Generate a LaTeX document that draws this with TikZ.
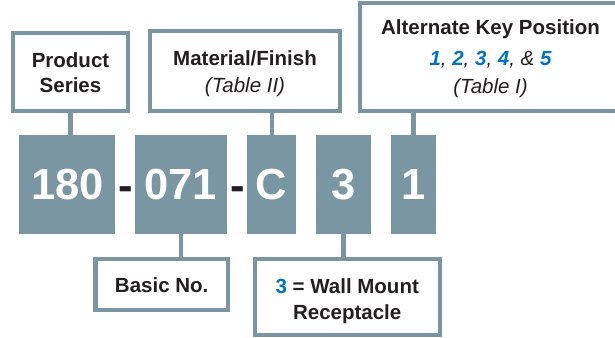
\documentclass[tikz,border=0pt]{standalone}
\usepackage{fontspec}
\setmainfont{Liberation Sans}
\definecolor{gb}{RGB}{122,150,163}
\definecolor{ink}{RGB}{35,31,32}
\definecolor{bluey}{RGB}{0,116,190}
\begin{document}
\begin{tikzpicture}[x=1pt,y=-1pt,
  lblbox/.style={draw=gb,line width=4.3pt,fill=white,rectangle,inner sep=0pt},
  codebox/.style={fill=gb,rectangle,inner sep=0pt,minimum height=99pt,text=white,
    font=\fontsize{43.5}{43.5}\selectfont\bfseries},
  hyph/.style={anchor=base,inner sep=0pt,text=ink,font=\fontsize{43.5}{43.5}\selectfont\bfseries},
  lbl/.style={anchor=base,inner sep=0pt,text=ink,font=\fontsize{20.5}{24}\selectfont\bfseries},
  lbli/.style={anchor=base,inner sep=0pt,text=ink,font=\fontsize{20.5}{24}\selectfont\itshape},
  conn/.style={draw=gb,line width=4.3pt}]
\useasboundingbox (0,0) rectangle (615,337);
% label boxes
\node[lblbox,minimum width=115pt,minimum height=78pt] (prod) at (70.5,72) {};
\node[lblbox,minimum width=190pt,minimum height=80pt] (mat) at (245,71) {};
\node[lblbox,minimum width=262pt,minimum height=108pt] (alt) at (491,57) {};
\node[lblbox,minimum width=132.7pt,minimum height=50.4pt] (basic) at (161.7,284.5) {};
\node[lblbox,minimum width=185pt,minimum height=76pt] (wall) at (347.2,296.7) {};
% code boxes
\node[codebox,minimum width=96pt] (c180) at (67.3,184.5) {180};
\node[codebox,minimum width=91.7pt] (c071) at (180.85,184.5) {071};
\node[codebox,minimum width=48.7pt] (cC) at (271.65,184.5) {C};
\node[codebox,minimum width=55.3pt] (c3) at (343.35,184.5) {3};
\node[codebox,minimum width=45pt] (c1) at (413.5,184.5) {1};
\node[hyph] (h1) at (126,200.7) {-};
\node[hyph] (h2) at (238,200.7) {-};
% connectors
\draw[conn] (prod.south) -- (prod.south |- c180.north);
\draw[conn] (cC.north) -- (cC.north |- mat.south);
\draw[conn] (c1.north) -- (c1.north |- alt.south);
\draw[conn] (c071.south) -- (c071.south |- basic.north);
\draw[conn] (c3.south) -- (c3.south |- wall.north);
% texts
\node[lbl] (t1) at (70.5,67) {Product};
\node[lbl] (t2) at (70.5,92) {Series};
\node[lbl] (t3) at (245,65) {Material/Finish};
\node[lbli] (t4) at (245,92) {(Table II)};
\node[lbl] (t5) at (490.5,35) {Alternate Key Position};
\node[lbli] (t6) at (490.5,65) {{\bfseries\color{bluey}1}, {\bfseries\color{bluey}2}, {\bfseries\color{bluey}3}, {\bfseries\color{bluey}4}, \& {\bfseries\color{bluey}5}};
\node[lbli] (t7) at (490.5,93) {(Table I)};
\node[lbl] (t8) at (161.7,292.7) {Basic No.};
\node[lbl] (t9) at (347.2,293) {{\color{bluey}3} = Wall Mount};
\node[lbl] (t10) at (347.2,319) {Receptacle};
\end{tikzpicture}
\end{document}
